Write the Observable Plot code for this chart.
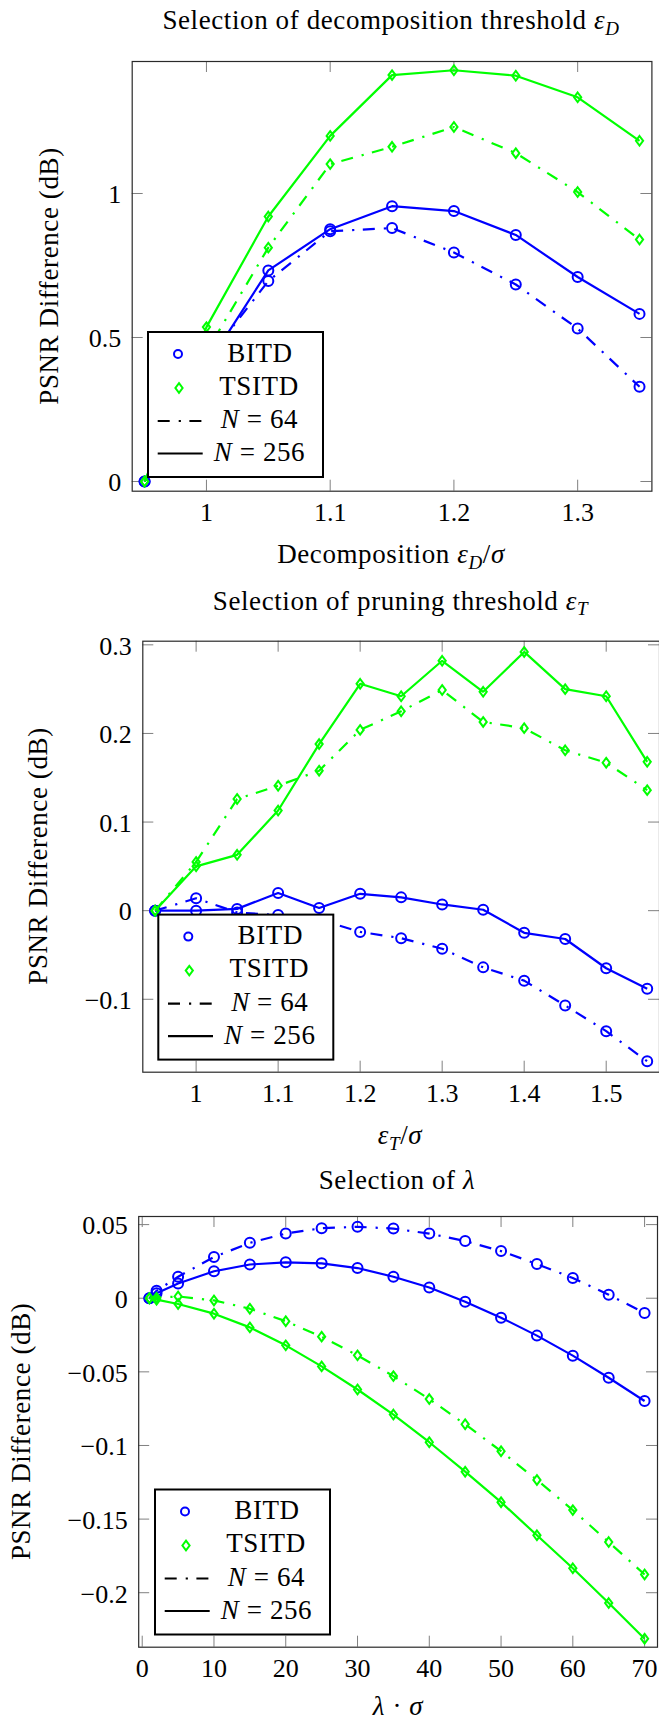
<!DOCTYPE html>
<html><head><meta charset="utf-8">
<script src="https://cdn.jsdelivr.net/npm/d3@7"></script>
<script src="https://cdn.jsdelivr.net/npm/@observablehq/plot@0.6"></script>
<style>
html,body{margin:0;padding:0;background:#fff;overflow:hidden;}
#root{position:relative;width:659px;height:1720px;overflow:hidden;}
#root svg{position:absolute;left:0;}
#root svg text, #root svg tspan{font-family:"Liberation Serif","Times New Roman",serif !important;}
</style></head><body><div id="root"></div>
<script>
const FONT = "Liberation Serif";
const TXT = 27, LS = 0.6, TICKFS = 26;
const BLUE = "#0000ff", GREEN = "#00ff00";
const DASH = "12 9 2.2 8.5";

// ---------- Panel 1: decomposition threshold ----------
const epsD = [0.95, 1.0, 1.05, 1.1, 1.15, 1.2, 1.25, 1.3, 1.35];
const bitdD64  = [0, 0.42, 0.696, 0.869, 0.880, 0.795, 0.684, 0.531, 0.329];
const bitdD256 = [0, 0.40, 0.733, 0.876, 0.956, 0.939, 0.856, 0.710, 0.582];
const tsitdD64  = [0, 0.45, 0.812, 1.102, 1.162, 1.231, 1.140, 1.005, 0.840];
const tsitdD256 = [0, 0.536, 0.920, 1.200, 1.411, 1.428, 1.409, 1.334, 1.183];
const xTicksD = [1, 1.1, 1.2, 1.3];
const xLabelsD = ["1", "1.1", "1.2", "1.3"];
const yTicksD = [0, 0.5, 1];
const yLabelsD = ["0", "0.5", "1"];

// ---------- Panel 2: pruning threshold ----------
const epsT = [0.95, 1.0, 1.05, 1.1, 1.15, 1.2, 1.25, 1.3, 1.35, 1.4, 1.45, 1.5, 1.55];
const bitdT64  = [0, 0.014, -0.002, -0.005, -0.010, -0.024, -0.031, -0.043, -0.064, -0.079, -0.107, -0.136, -0.170];
const bitdT256 = [0, 0, 0.002, 0.020, 0.003, 0.019, 0.015, 0.007, 0.001, -0.025, -0.032, -0.065, -0.088];
const tsitdT64  = [0, 0.055, 0.126, 0.141, 0.158, 0.204, 0.225, 0.249, 0.213, 0.206, 0.181, 0.167, 0.136];
const tsitdT256 = [0, 0.050, 0.063, 0.113, 0.188, 0.256, 0.242, 0.282, 0.247, 0.292, 0.250, 0.242, 0.168];
const xTicksT = [1, 1.1, 1.2, 1.3, 1.4, 1.5];
const xLabelsT = ["1", "1.1", "1.2", "1.3", "1.4", "1.5"];
const yTicksT = [-0.1, 0, 0.1, 0.2, 0.3];
const yLabelsT = ["\u22120.1", "0", "0.1", "0.2", "0.3"];

// ---------- Panel 3: lambda ----------
const lam = [1, 2, 5, 10, 15, 20, 25, 30, 35, 40, 45, 50, 55, 60, 65, 70];
const bitdL64  = [0, 0.005, 0.0146, 0.028, 0.0376, 0.0439, 0.0476, 0.0485, 0.0473, 0.0439, 0.0388, 0.032, 0.0232, 0.0137, 0.0024, -0.010];
const bitdL256 = [0, 0.0034, 0.010, 0.0183, 0.0229, 0.0244, 0.0237, 0.0205, 0.0146, 0.0073, -0.0024, -0.0132, -0.0254, -0.039, -0.054, -0.0698];
const tsitdL64  = [0, 0.0003, 0.0012, -0.0015, -0.0071, -0.0156, -0.0261, -0.0388, -0.0529, -0.0685, -0.0856, -0.1039, -0.1234, -0.1439, -0.1656, -0.1876];
const tsitdL256 = [0, -0.001, -0.0039, -0.0105, -0.0198, -0.032, -0.0463, -0.062, -0.079, -0.0978, -0.1178, -0.1385, -0.161, -0.1834, -0.207, -0.2312];
const xTicksL = [0, 10, 20, 30, 40, 50, 60, 70];
const xLabelsL = ["0", "10", "20", "30", "40", "50", "60", "70"];
const yTicksL = [-0.2, -0.15, -0.1, -0.05, 0, 0.05];
const yLabelsL = ["\u22120.2", "\u22120.15", "\u22120.1", "\u22120.05", "0", "0.05"];

const methodNames = ["BITD", "TSITD"];
const sizeNames = ["64", "256"];
const yAxisTitle = "PSNR Difference (dB)";

// pgfplots-like diamond (taller than wide)
const pgfDiamond = {
  draw(ctx, size) {
    const h = Math.sqrt(size / Math.PI), w = h * 0.75;
    ctx.moveTo(0, -h); ctx.lineTo(w, 0); ctx.lineTo(0, h); ctx.lineTo(-w, 0); ctx.closePath();
  }
};

function buildPanel(cfg) {
  const {top, width, height, mt, mr, mb, ml, xDomain, yDomain, xTicks, xLabels, yTicks, yLabels, xs, series} = cfg;
  const W = width - ml - mr, H = height - mt - mb, TL = 11;
  const tickStyle = {stroke: "#808080", strokeWidth: 1};
  const marks = [
    Plot.ruleX(xTicks, {...tickStyle, insetTop: H - TL}),
    Plot.ruleX(xTicks, {...tickStyle, insetBottom: H - TL}),
    Plot.ruleY(yTicks, {...tickStyle, insetRight: W - TL}),
    Plot.ruleY(yTicks, {...tickStyle, insetLeft: W - TL}),
    Plot.frame({stroke: "#2a2a2a", strokeWidth: 1.2}),
    Plot.axisX({ticks: xTicks, tickSize: 0, tickPadding: 11.2, label: null,
      fontFamily: FONT, fontSize: TICKFS, fill: "#000",
      tickFormat: d => xLabels[xTicks.indexOf(d)]}),
    Plot.axisY({ticks: yTicks, tickSize: 0, tickPadding: 11, label: null, dy: 1.5,
      fontFamily: FONT, fontSize: TICKFS, fill: "#000",
      tickFormat: d => yLabels[yTicks.indexOf(d)]})
  ];
  for (const s of series) {
    const data = xs.map((x, i) => ({x, y: s.values[i]}));
    const lineOpts = {x: "x", y: "y", stroke: s.color, strokeWidth: 2.2, strokeLinecap: "butt", strokeLinejoin: "miter"};
    if (s.dash) lineOpts.strokeDasharray = DASH;
    marks.push(Plot.line(data, lineOpts));
    marks.push(Plot.dot(data, {x: "x", y: "y", stroke: s.color, strokeWidth: 2, fill: "none",
      symbol: s.symbol === "circle" ? "circle" : pgfDiamond, r: s.symbol === "circle" ? 5 : 4.8}));
  }
  const svg = Plot.plot({
    width, height, marginTop: mt, marginRight: mr, marginBottom: mb, marginLeft: ml,
    x: {domain: xDomain}, y: {domain: yDomain},
    style: {fontFamily: FONT, fontSize: "26px", color: "#000", background: "transparent", overflow: "visible"},
    marks
  });
  svg.style.top = top + "px";
  document.getElementById("root").appendChild(svg);
  d3.select(svg).selectAll("text").attr("font-family", FONT);
  return svg;
}

function addRich(sel, parts) {
  let inSub = false;
  for (const p of parts) {
    const t = sel.append("tspan").text(p.t);
    if (p.i) t.attr("font-style", "italic");
    if (p.sub && !inSub) { t.attr("font-size", 19).attr("dy", 5.5); inSub = true; }
    else if (!p.sub && inSub) { t.attr("dy", -5.5); inSub = false; }
    else if (p.sub) t.attr("font-size", 19);
  }
}

function annotate(svg, cfg) {
  const s = d3.select(svg);
  const txt = (x, y) => s.append("text").attr("x", x).attr("y", y).attr("text-anchor", "middle")
    .attr("font-family", FONT).attr("font-size", TXT).attr("letter-spacing", LS).attr("fill", "#000");
  addRich(txt(cfg.title[0], cfg.title[1]), cfg.title[2]);
  addRich(txt(cfg.xlab[0], cfg.xlab[1]), cfg.xlab[2]);
  s.append("text").attr("transform", `translate(${cfg.ylab[0]},${cfg.ylab[1]}) rotate(-90)`)
    .attr("text-anchor", "middle").attr("font-family", FONT).attr("font-size", TXT)
    .attr("letter-spacing", LS).attr("fill", "#000")
    .text(yAxisTitle);
  // legend
  const g = s.append("g").attr("transform", `translate(${cfg.leg[0]},${cfg.leg[1]})`);
  g.append("rect").attr("x", 0).attr("y", 0).attr("width", 175).attr("height", 145)
    .attr("fill", "#fff").attr("stroke", "#000").attr("stroke-width", 2);
  g.append("circle").attr("cx", 30).attr("cy", 22).attr("r", 4).attr("fill", "none")
    .attr("stroke", BLUE).attr("stroke-width", 2);
  const dp = d3.path(); pgfDiamond.draw(dp, Math.PI * 4.8 * 4.8);
  g.append("path").attr("transform", "translate(31,56)").attr("d", dp.toString()).attr("fill", "none")
    .attr("stroke", GREEN).attr("stroke-width", 2);
  g.append("line").attr("x1", 9.7).attr("x2", 54.7).attr("y1", 89).attr("y2", 89)
    .attr("stroke", "#000").attr("stroke-width", 2.2).attr("stroke-dasharray", DASH);
  g.append("line").attr("x1", 9.7).attr("x2", 54.7).attr("y1", 121.5).attr("y2", 121.5)
    .attr("stroke", "#000").attr("stroke-width", 2.2);
  const lt = (x, y) => g.append("text").attr("x", x).attr("y", y).attr("text-anchor", "middle")
    .attr("font-family", FONT).attr("font-size", TXT).attr("letter-spacing", LS).attr("fill", "#000");
  lt(112, 29.5).text(methodNames[0]);
  lt(111, 62.5).text(methodNames[1]);
  addRich(lt(111.5, 96), [{t: "N", i: true}, {t: " = " + sizeNames[0]}]);
  addRich(lt(111.5, 129), [{t: "N", i: true}, {t: " = " + sizeNames[1]}]);
}

const mkSeries = (b64, b256, t64, t256) => [
  {values: b64, color: BLUE, dash: true, symbol: "circle"},
  {values: b256, color: BLUE, dash: false, symbol: "circle"},
  {values: t64, color: GREEN, dash: true, symbol: "diamond"},
  {values: t256, color: GREEN, dash: false, symbol: "diamond"}
];

const p1 = buildPanel({top: 0, width: 659, height: 580, mt: 61, mr: 7.6, mb: 89.3, ml: 131.7,
  xDomain: [0.94, 1.36], yDomain: [-0.0337, 1.4583], xTicks: xTicksD, xLabels: xLabelsD,
  yTicks: yTicksD, yLabels: yLabelsD, xs: epsD, series: mkSeries(bitdD64, bitdD256, tsitdD64, tsitdD256)});
annotate(p1, {
  title: [391, 29, [{t: "Selection of decomposition threshold "}, {t: "\u03b5", i: true}, {t: "D", i: true, sub: true}]],
  xlab: [391, 563, [{t: "Decomposition "}, {t: "\u03b5", i: true}, {t: "D", i: true, sub: true}, {t: "/"}, {t: "\u03c3", i: true}]],
  ylab: [58, 276], leg: [148, 332]
});

const p2 = buildPanel({top: 580, width: 659, height: 580, mt: 60.7, mr: 0, mb: 88.3, ml: 142.3,
  xDomain: [0.935, 1.565], yDomain: [-0.1823, 0.3041], xTicks: xTicksT, xLabels: xLabelsT,
  yTicks: yTicksT, yLabels: yLabelsT, xs: epsT, series: mkSeries(bitdT64, bitdT256, tsitdT64, tsitdT256)});
annotate(p2, {
  title: [400.5, 29.7, [{t: "Selection of pruning threshold "}, {t: "\u03b5", i: true}, {t: "T", i: true, sub: true}]],
  xlab: [400, 564, [{t: "\u03b5", i: true}, {t: "T", i: true, sub: true}, {t: "/"}, {t: "\u03c3", i: true}]],
  ylab: [47.2, 276], leg: [158.3, 334.6]
});

const p3 = buildPanel({top: 1160, width: 659, height: 560, mt: 56, mr: 2, mb: 73.3, ml: 138.2,
  xDomain: [-0.49, 71.8], yDomain: [-0.237, 0.0555], xTicks: xTicksL, xLabels: xLabelsL,
  yTicks: yTicksL, yLabels: yLabelsL, xs: lam, series: mkSeries(bitdL64, bitdL256, tsitdL64, tsitdL256)});
annotate(p3, {
  title: [397, 29.4, [{t: "Selection of "}, {t: "\u03bb", i: true}]],
  xlab: [398, 555, [{t: "\u03bb", i: true}, {t: " \u00b7 "}, {t: "\u03c3", i: true}]],
  ylab: [30.3, 271.4], leg: [155, 329.5]
});
</script></body></html>
